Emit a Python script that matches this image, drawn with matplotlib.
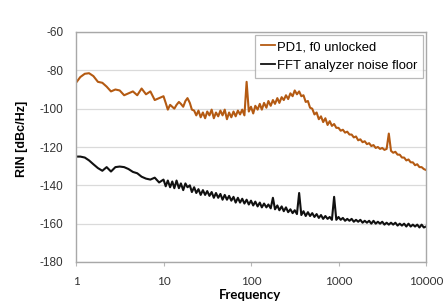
import matplotlib
matplotlib.use("Agg")
import matplotlib.pyplot as plt
from matplotlib.ticker import FixedLocator, NullLocator, FixedFormatter

freq = [
    1.00, 1.12, 1.26, 1.41, 1.58, 1.78, 2.00, 2.24, 2.51, 2.82, 3.16, 3.55, 3.98, 4.47, 5.01, 5.62, 6.31, 7.08, 7.94, 8.91,
    10.0, 10.6, 11.2, 11.9, 12.6, 13.3, 14.1, 15.0, 15.8, 16.8, 17.8, 18.8, 20.0, 21.1, 22.4, 23.7, 25.1, 26.6, 28.2, 29.9,
    31.6, 33.5, 35.5, 37.6, 39.8, 42.2, 44.7, 47.3, 50.1, 53.1, 56.2, 59.6, 63.1, 66.8, 70.8, 75.0, 79.4, 84.1, 89.1, 94.4,
    100, 106, 112, 119, 126, 133, 141, 150, 158, 168, 178, 188, 200, 211, 224, 237, 251, 266, 282, 299,
    316, 335, 355, 376, 398, 422, 447, 473, 501, 531, 562, 596, 631, 668, 708, 750, 794, 841, 891, 944,
    1000, 1059, 1122, 1189, 1259, 1334, 1413, 1496, 1585, 1679, 1778, 1884, 1995, 2113, 2239, 2371, 2512, 2661, 2818, 2985,
    3162, 3350, 3548, 3758, 3981, 4217, 4467, 4732, 5012, 5309, 5623, 5957, 6310, 6683, 7079, 7499, 7943, 8414, 8913, 9441,
    10000,
]

pd1_unlocked = [
    -86.5, -83.5, -81.8, -81.5, -83.0, -86.0, -86.5, -88.5, -91.0, -90.0, -90.5, -93.0, -92.0, -91.0, -93.0, -89.5, -92.5, -91.0, -95.5, -94.5,
    -93.5, -97.0, -100.5, -98.0, -99.0, -100.0, -98.0, -96.5, -97.5, -99.0, -96.0, -94.5, -97.0, -100.5, -101.0, -103.5, -101.0, -104.5, -102.0, -105.0,
    -101.5, -103.5, -100.5, -105.0, -102.0, -104.0, -101.0, -103.5, -100.5, -105.5, -102.0, -104.5, -101.5, -104.0, -101.0, -103.0, -100.5, -103.5, -86.0, -101.5,
    -99.0, -102.5, -98.5, -100.5, -97.5, -100.5, -97.0, -99.5, -96.0, -98.5, -95.5, -97.5, -94.5, -97.0, -94.0, -95.5, -93.0, -95.0, -92.0, -93.5,
    -90.5, -92.5, -91.0, -93.5, -93.0, -96.5, -96.0, -99.5, -100.0, -103.0, -102.0, -105.5, -104.0, -107.0, -105.0, -108.5, -106.5, -109.0, -108.0, -110.0,
    -110.0, -111.5, -111.0, -112.5, -112.0, -113.5, -113.5, -115.0, -114.5, -116.5, -116.0, -117.5, -117.0, -118.5, -118.0, -119.5, -119.0, -120.5, -120.0, -121.0,
    -120.5, -121.5, -121.0, -113.0, -122.0, -123.0, -122.5, -124.0, -124.0, -125.5, -125.5, -127.0, -126.5, -128.0, -128.0, -129.5, -129.0, -130.5, -130.5, -131.5,
    -132.0,
]

fft_floor = [
    -125.0, -125.0, -125.5, -127.0, -129.0, -131.0, -132.4, -130.5, -132.8, -130.5, -130.2, -130.5, -131.5, -133.0, -133.7, -135.5, -136.5, -137.0, -136.0, -138.5,
    -137.0, -140.5, -137.5, -141.0, -138.0, -141.5, -137.5, -141.5, -139.0, -142.5, -139.0, -141.0, -140.0, -143.5, -141.0, -144.0, -142.0, -145.0, -142.5, -145.0,
    -143.0, -145.5, -143.5, -146.5, -144.0, -146.5, -144.5, -147.5, -145.0, -147.5, -145.5, -148.0, -146.0, -149.0, -146.5, -149.0, -147.0, -149.5, -147.5, -150.0,
    -148.0, -150.5, -148.5, -151.0, -149.0, -151.5, -149.5, -151.5, -150.0, -152.0, -146.5, -152.5, -150.5, -153.0, -151.0, -153.5, -151.5, -154.0, -152.5, -154.5,
    -153.0, -155.0, -144.0, -155.5, -153.5, -156.0, -154.0, -156.0, -154.5, -156.5, -155.0, -157.0, -155.5, -157.5, -156.0, -157.5, -156.5, -158.0, -146.0, -158.0,
    -156.5, -158.0, -157.0, -158.5, -157.5, -158.5, -157.5, -159.0, -158.0, -159.0, -158.0, -159.5, -158.5, -159.5, -158.5, -160.0, -158.5, -160.0, -159.0, -160.0,
    -159.0, -160.5, -159.5, -160.5, -159.5, -160.5, -159.5, -161.0, -160.0, -161.0, -160.0, -161.5, -160.0, -161.5, -160.5, -161.5, -160.5, -162.0, -160.5, -162.0,
    -161.5,
]

series_labels = ["PD1, f0 unlocked", "FFT analyzer noise floor"]
x_ticks = [1, 10, 100, 1000, 10000]
x_tick_labels = ["1", "10", "100", "1000", "10000"]
y_ticks = [-180, -160, -140, -120, -100, -80, -60]

plt.rcParams['font.family'] = ['Liberation Sans', 'DejaVu Sans']

fig = plt.figure(figsize=(4.45, 3.02), dpi=100)
ax = fig.add_axes([76/445, 1-262/302, 350/445, 230/302])

ax.plot(freq, pd1_unlocked, color='#B45A12', lw=1.5, label=series_labels[0])
ax.plot(freq, fft_floor, color='#111111', lw=1.5, label=series_labels[1])

ax.set_xscale('log')
ax.set_xlim(1, 10000)
ax.set_ylim(-180, -60)
ax.xaxis.set_major_locator(FixedLocator(x_ticks))
ax.xaxis.set_major_formatter(FixedFormatter(x_tick_labels))
ax.xaxis.set_minor_locator(NullLocator())
ax.set_yticks(y_ticks)
ax.set_yticklabels([str(v) for v in y_ticks])

ax.grid(axis='y', color='#dadada', lw=0.9)
ax.set_axisbelow(True)
for s in ax.spines.values():
    s.set_color('#a8a8a8')
    s.set_linewidth(1.0)
ax.tick_params(axis='both', colors='#b8b8b8', labelcolor='#333333', length=3)
ax.tick_params(axis='y', length=0, pad=9, labelsize=8.5)
ax.tick_params(axis='x', pad=7, labelsize=8.5)
for lbl in ax.get_xticklabels():
    lbl.set_fontfamily(['Lato', 'DejaVu Sans'])

ax.set_xlabel('Frequency', fontsize=9.5, fontweight='bold', family=['Lato', 'DejaVu Sans'])
ax.xaxis.set_label_coords((250-76)/350, (262-289)/230)
ax.set_ylabel('RIN [dBc/Hz]', fontsize=9, fontweight='bold')
ax.yaxis.set_label_coords((28-76)/350, (262-138.5)/230)

leg = ax.legend(loc='upper right', bbox_to_anchor=(1.0-3/350, 1.0-3/230), fontsize=9.4,
                frameon=True, fancybox=False, handlelength=1.1, handletextpad=0.1,
                borderpad=0.45, labelspacing=0.5, borderaxespad=0)
leg.get_frame().set_edgecolor('#a8a8a8')
leg.get_frame().set_linewidth(0.9)
for line in leg.get_lines():
    line.set_linewidth(1.3)

fig.savefig('out.png', dpi=100)
